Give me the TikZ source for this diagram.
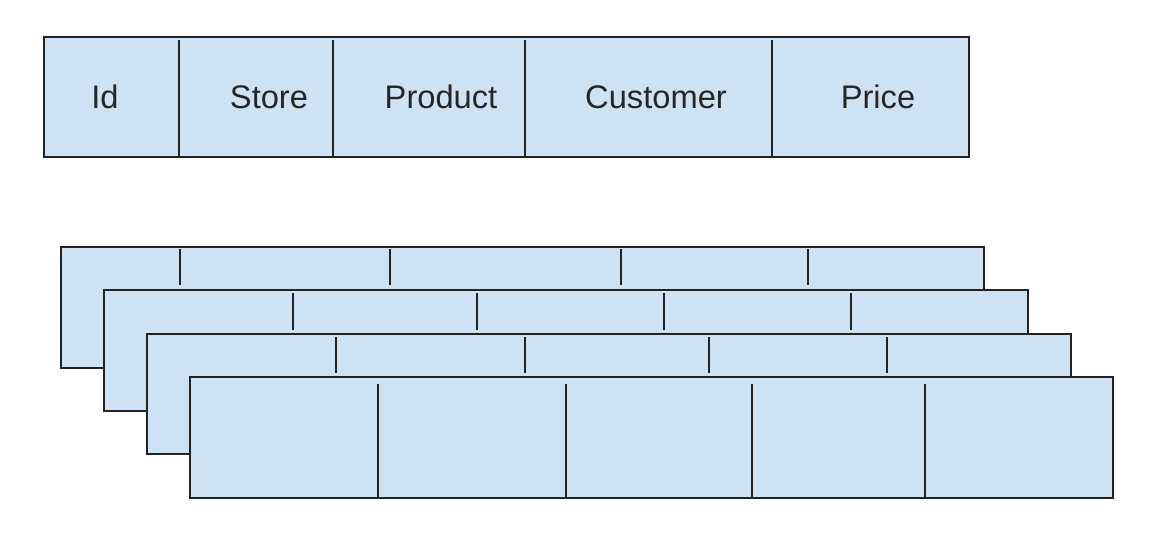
\documentclass[tikz,border=0pt]{standalone}
\usepackage{fontspec}
\setmainfont{Liberation Sans}
\definecolor{cellfill}{HTML}{CFE2F3}
\definecolor{edge}{HTML}{222222}
\begin{document}
\begin{tikzpicture}[x=0.75pt,y=-0.75pt,
  tablebox/.style={draw=edge,fill=cellfill,line width=1.4pt},
  divider/.style={draw=edge,line width=1.4pt},
  lbl/.style={anchor=base,inner sep=0pt,font=\fontsize{24.5pt}{28pt}\selectfont,text=black!85}]
\useasboundingbox (0,0) rectangle (1166,550);
% top table
\draw[tablebox] (44,37) rectangle (969,157);
\foreach \x in {179,333,525,772} \draw[divider] (\x,40) -- (\x,157);
\node[lbl] (id) at (105,108) {Id};
\node[lbl] (store) at (269,108) {Store};
\node[lbl] (product) at (441,108) {Product};
\node[lbl] (customer) at (656,108) {Customer};
\node[lbl] (price) at (878,108) {Price};
% stack 1
\draw[tablebox] (61,247) rectangle (984,368);
\foreach \x in {180,390,621,808} \draw[divider] (\x,249) -- (\x,285);
% stack 2
\draw[tablebox] (104,290) rectangle (1028,411);
\foreach \x in {293,477,664,851} \draw[divider] (\x,293) -- (\x,330);
% stack 3
\draw[tablebox] (147,334) rectangle (1071,454);
\foreach \x in {336,525,709,887} \draw[divider] (\x,337) -- (\x,373);
% stack 4
\draw[tablebox] (190,377) rectangle (1113,498);
\foreach \x in {378,566,752,925} \draw[divider] (\x,384) -- (\x,499);
\end{tikzpicture}
\end{document}
